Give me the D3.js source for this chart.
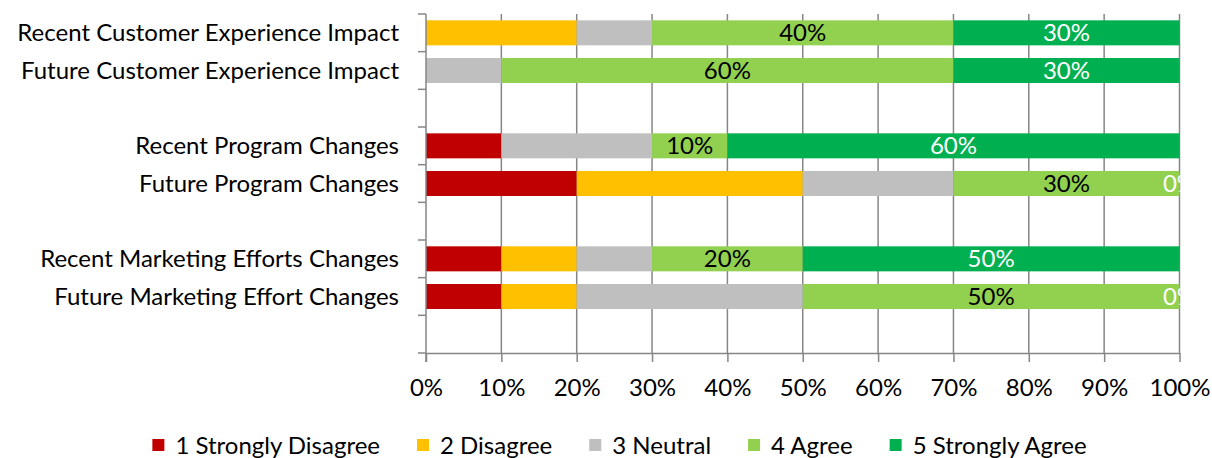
<!DOCTYPE html>
<html><head><meta charset="utf-8">
<script src="https://cdn.jsdelivr.net/npm/d3@7"></script>
<style>body{margin:0;background:#fff}svg{display:block}text{font-family:Lato,"Open Sans",sans-serif}</style>
</head><body>
<svg id="c" width="1212" height="458"></svg>
<script>
const categories = ["Recent Customer Experience Impact","Future Customer Experience Impact","","Recent Program Changes","Future Program Changes","","Recent Marketing Efforts Changes","Future Marketing Effort Changes",""];
const seriesNames = ["1 Strongly Disagree","2 Disagree","3 Neutral","4 Agree","5 Strongly Agree"];
const seriesColors = ["#C00000","#FFC000","#BFBFBF","#92D050","#00B050"];
const stronglyDisagree = [0,0,null,10,20,null,10,10,null];
const disagree         = [20,0,null,0,30,null,10,10,null];
const neutral          = [10,10,null,20,20,null,10,30,null];
const agree            = [40,60,null,10,30,null,20,50,null];
const stronglyAgree    = [30,30,null,60,0,null,50,0,null];
const xTicks = [0,10,20,30,40,50,60,70,80,90,100];
const labelSeries = [3,4];
const labelColors = {3:"#000",4:"#fff"};

(function(){
const values = [stronglyDisagree,disagree,neutral,agree,stronglyAgree];
const FS = 24;
const svg = d3.select("#c");
const pL = 426, pR = 1179.5, pT = 14, pB = 353;
const x = d3.scaleLinear().domain([0,100]).range([pL,pR]);
const y = d3.scaleBand().domain(d3.range(categories.length)).range([pT,pB]).paddingInner(0.336).paddingOuter(0.168);

svg.append("defs").append("clipPath").attr("id","plot").append("rect")
  .attr("x",pL).attr("y",pT).attr("width",pR-pL+1).attr("height",pB-pT);

svg.append("g").selectAll("line").data(xTicks.slice(1)).join("line")
  .attr("x1",d=>x(d)).attr("x2",d=>x(d)).attr("y1",pT).attr("y2",pB)
  .attr("stroke","#868686").attr("stroke-width",1.5);

const rows = categories.map((c,i)=>{
  let acc=0; return values.map((s,k)=>{const v=s[i]; if(v==null) return null; const r={i,k,x0:acc,x1:acc+v,v}; acc+=v; return r;}).filter(d=>d);
}).flat();
svg.append("g").selectAll("rect").data(rows.filter(d=>d.v>0)).join("rect")
  .attr("x",d=>x(d.x0)).attr("width",d=>x(d.x1)-x(d.x0))
  .attr("y",d=>y(d.i)).attr("height",y.bandwidth())
  .attr("fill",d=>seriesColors[d.k]);

svg.append("g").attr("clip-path","url(#plot)").selectAll("text")
  .data(rows.filter(d=>labelSeries.includes(d.k))).join("text")
  .attr("x",d=>x((d.x0+d.x1)/2)).attr("y",d=>y(d.i)+y.bandwidth()/2)
  .attr("dy","0.36em").attr("text-anchor","middle").attr("font-size",FS)
  .attr("fill",d=>labelColors[d.k]).text(d=>d.v+"%");

const yAxis = svg.append("g");
yAxis.append("line").attr("x1",pL).attr("x2",pL).attr("y1",pT).attr("y2",pB+9).attr("stroke","#868686").attr("stroke-width",1.5);
const bounds = d3.range(categories.length+1).map(i=>pT+i*y.step());
yAxis.selectAll("line.t").data(bounds).join("line").attr("class","t")
  .attr("x1",pL-8).attr("x2",pL).attr("y1",d=>d).attr("y2",d=>d).attr("stroke","#868686").attr("stroke-width",1.5);
yAxis.selectAll("text").data(categories).join("text")
  .attr("x",399).attr("y",(d,i)=>y(i)+y.bandwidth()/2).attr("dy","0.36em")
  .attr("text-anchor","end").attr("font-size",FS).attr("fill","#000").text(d=>d);

const xAxis = svg.append("g").attr("transform",`translate(0,${pB})`)
  .call(d3.axisBottom(x).tickValues(xTicks).tickFormat(d=>d+"%").tickSize(9).tickSizeOuter(0));
xAxis.select(".domain").attr("stroke","#868686").attr("stroke-width",1.5);
xAxis.selectAll(".tick line").attr("stroke","#868686").attr("stroke-width",1.5);
xAxis.selectAll(".tick text").attr("font-size",FS).attr("fill","#000").attr("font-family","Lato").attr("y",34).attr("dy","0.36em");

const leg = svg.append("g");
const items = leg.selectAll("g").data(seriesNames).join("g");
items.append("rect").attr("width",12).attr("height",12).attr("y",-6).attr("fill",(d,i)=>seriesColors[i]);
items.append("text").attr("x",23).attr("dy","0.36em").attr("font-size",FS).attr("fill","#000").text(d=>d);
let cx=0; const pos=[];
items.each(function(){pos.push(cx); cx += 23 + this.querySelector("text").getComputedTextLength() + 37;});
const total = cx-37;
items.attr("transform",(d,i)=>`translate(${619.5-total/2+pos[i]},445)`);
})();
</script>
</body></html>
